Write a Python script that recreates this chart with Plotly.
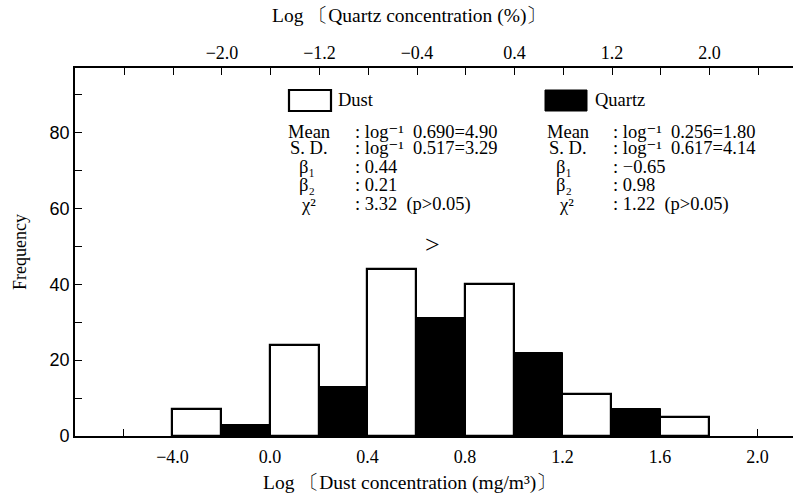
import plotly.graph_objects as go

# Histogram bins: log dust concentration (bottom axis), log quartz concentration (top axis)
dust_bin_centers = [-0.3, 0.1, 0.5, 0.9, 1.3, 1.7]
dust_counts = [7, 24, 44, 40, 11, 5]
dust_bin_width = 0.2

quartz_bin_centers = [-1.8, -1.0, -0.2, 0.6, 1.4]
quartz_counts = [3, 13, 31, 22, 7]
quartz_bin_width = 0.4

bottom_tick_vals = [-0.4, 0.0, 0.4, 0.8, 1.2, 1.6, 2.0]
bottom_tick_text = ["−4.0", "0.0", "0.4", "0.8", "1.2", "1.6", "2.0"]
top_tick_vals = [-2.0, -1.2, -0.4, 0.4, 1.2, 2.0]
top_tick_text = ["−2.0", "−1.2", "−0.4", "0.4", "1.2", "2.0"]
y_tick_vals = [0, 20, 40, 60, 80]

dust_stats = [
    ("Mean", "log⁻¹  0.690=4.90"),
    ("S. D.", "log⁻¹  0.517=3.29"),
    ("β₁", "0.44"),
    ("β₂", "0.21"),
    ("χ²", "3.32  (p>0.05)"),
]
quartz_stats = [
    ("Mean", "log⁻¹  0.256=1.80"),
    ("S. D.", "log⁻¹  0.617=4.14"),
    ("β₁", "−0.65"),
    ("β₂", "0.98"),
    ("χ²", "1.22  (p>0.05)"),
]

SERIF = "Liberation Serif, DejaVu Serif, serif"
SANS = "Liberation Sans, Arial, sans-serif"
W, H = 793, 499
ML, MR, MT, MB = 75, 0, 68, 63
PW, PH = W - ML - MR, H - MT - MB

fig = go.Figure()
fig.add_trace(go.Bar(
    x=dust_bin_centers, y=dust_counts, width=dust_bin_width,
    marker=dict(color="white", line=dict(color="black", width=2.2)),
    name="Dust", xaxis="x", yaxis="y", showlegend=False,
))
fig.add_trace(go.Bar(
    x=quartz_bin_centers, y=quartz_counts, width=quartz_bin_width,
    marker=dict(color="black", line=dict(color="black", width=1)),
    name="Quartz", xaxis="x2", yaxis="y", showlegend=False,
))

axis_common = dict(
    showgrid=False, zeroline=False, showline=True, linecolor="black", linewidth=1.6,
    ticks="inside", ticklen=7, tickwidth=1.3, tickcolor="black",
)
minor_common = dict(ticks="inside", ticklen=7, tickcolor="black", tickwidth=1.3)
serif_ticks = dict(family=SERIF, size=18, color="black")

fig.update_layout(
    width=W, height=H,
    margin=dict(l=ML, r=MR, t=MT, b=MB),
    paper_bgcolor="white", plot_bgcolor="white",
    barmode="overlay", bargap=0,
    xaxis=dict(
        **axis_common, range=[-0.8, 2.146], tickfont=serif_ticks, ticklabelstandoff=4,
        tickmode="array", tickvals=bottom_tick_vals, ticktext=bottom_tick_text,
        minor=dict(dtick=0.2, tick0=0, **minor_common),
    ),
    xaxis2=dict(
        **axis_common, range=[-3.206, 2.685], overlaying="x", side="top",
        tickfont=serif_ticks,
        tickmode="array", tickvals=top_tick_vals, ticktext=top_tick_text,
        minor=dict(dtick=0.4, tick0=0, **minor_common),
    ),
    yaxis=dict(
        **axis_common, range=[0, 97],
        tickfont=dict(family=SANS, size=18, color="black"),
        tickmode="array", tickvals=y_tick_vals,
        minor=dict(dtick=10, **minor_common),
        title=dict(text="Frequency", font=dict(family=SERIF, size=18, color="black"),
                   standoff=18),
    ),
)


def px(x):
    # pixel column -> paper fraction of the plot area
    return (x - ML) / PW


def py(y):
    # pixel row -> paper fraction of the plot area
    return 1 - (y - MT) / PH


# axis titles
title_font = dict(family=SERIF, size=19.5, color="black")
fig.add_annotation(xref="paper", yref="paper", x=px(409), y=py(16),
                   text="Log 〔Quartz concentration (%)〕", showarrow=False,
                   xanchor="center", yanchor="middle", font=title_font)
fig.add_annotation(xref="paper", yref="paper", x=px(409), y=py(483),
                   text="Log 〔Dust concentration (mg/m³)〕", showarrow=False,
                   xanchor="center", yanchor="middle", font=title_font)

# legend keys
fig.add_shape(type="rect", xref="paper", yref="paper",
              x0=px(289), x1=px(331), y0=py(111), y1=py(90),
              line=dict(color="black", width=2.2), fillcolor="white")
fig.add_shape(type="rect", xref="paper", yref="paper",
              x0=px(545), x1=px(587), y0=py(111), y1=py(90),
              line=dict(color="black", width=1), fillcolor="black")

txt_font = dict(family=SERIF, size=18.5, color="black")
fig.add_annotation(xref="paper", yref="paper", x=px(336), y=py(100), text="Dust",
                   showarrow=False, xanchor="left", yanchor="middle", font=txt_font)
fig.add_annotation(xref="paper", yref="paper", x=px(593), y=py(100), text="Quartz",
                   showarrow=False, xanchor="left", yanchor="middle", font=txt_font)

row_y = [132, 148, 167, 185, 205]
label_x_dust = [286, 288, 297, 297, 299]
label_x_quartz = [545, 547, 554, 554, 557]
stat_font = dict(family=SERIF, size=18.5, color="black")


def add_stats(stats, label_xs, colon_x):
    for (lab, val), lx, ry in zip(stats, label_xs, row_y):
        fig.add_annotation(xref="paper", yref="paper", x=px(lx), y=py(ry), text=lab,
                           showarrow=False, xanchor="left", yanchor="middle", font=stat_font)
        fig.add_annotation(xref="paper", yref="paper", x=px(colon_x), y=py(ry),
                           text=": " + val, showarrow=False, xanchor="left",
                           yanchor="middle", font=stat_font)


add_stats(dust_stats, label_x_dust, 353)
add_stats(quartz_stats, label_x_quartz, 611)

fig.add_annotation(xref="paper", yref="paper", x=px(432), y=py(244), text=">",
                   showarrow=False, xanchor="center", yanchor="middle",
                   font=dict(family=SERIF, size=26, color="black"))

fig.write_html("out.html")
